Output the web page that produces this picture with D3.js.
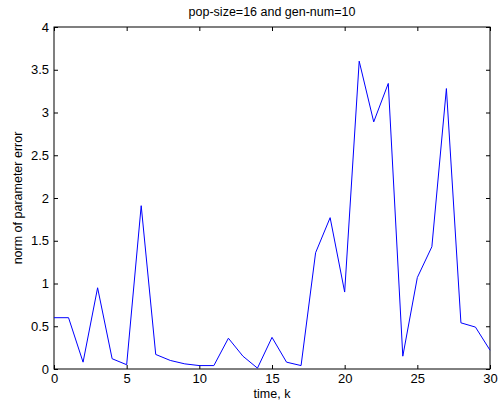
<!DOCTYPE html>
<html>
<head>
<meta charset="utf-8">
<script src="https://cdn.jsdelivr.net/npm/d3@7"></script>
<style>
  body { margin: 0; background: #fff; }
  text { font-family: "Liberation Sans", Arial, sans-serif; fill: #000; }
</style>
</head>
<body>
<div id="plot"></div>
<script>
// Data
const timeSteps = d3.range(0, 31);
const errorNorm = [0.60, 0.60, 0.08, 0.95, 0.12, 0.05, 1.91, 0.17, 0.10, 0.06,
                   0.04, 0.04, 0.36, 0.15, 0.01, 0.37, 0.08, 0.04, 1.36, 1.77,
                   0.90, 3.60, 2.89, 3.34, 0.15, 1.07, 1.43, 3.28, 0.54, 0.49, 0.22];
const xTicks = [0, 5, 10, 15, 20, 25, 30];
const yTicks = [0, 0.5, 1, 1.5, 2, 2.5, 3, 3.5, 4];

const w = 500, h = 410;
const margin = { left: 54, right: 10, top: 27, bottom: 41 };

const svg = d3.select("#plot").append("svg")
    .attr("width", w)
    .attr("height", h);

const x = d3.scaleLinear().domain([0, 30]).range([margin.left, w - margin.right]);
const y = d3.scaleLinear().domain([0, 4]).range([h - margin.bottom, margin.top]);

const tickLen = 4;

// bottom / top axes, ticks pointing inward
svg.append("g")
    .attr("transform", "translate(0," + y(0) + ")")
    .call(d3.axisBottom(x).tickValues(xTicks).tickSize(-tickLen).tickPadding(5).tickFormat(d3.format("d")))
    .call(g => g.select(".domain").remove());
svg.append("g")
    .attr("transform", "translate(0," + y(4) + ")")
    .call(d3.axisTop(x).tickValues(xTicks).tickSize(-tickLen).tickFormat(""))
    .call(g => g.select(".domain").remove());

// left / right axes
svg.append("g")
    .attr("transform", "translate(" + x(0) + ",0)")
    .call(d3.axisLeft(y).tickValues(yTicks).tickSize(-tickLen).tickPadding(5).tickFormat(d => d))
    .call(g => g.select(".domain").remove());
svg.append("g")
    .attr("transform", "translate(" + x(30) + ",0)")
    .call(d3.axisRight(y).tickValues(yTicks).tickSize(-tickLen).tickFormat(""))
    .call(g => g.select(".domain").remove());

svg.selectAll(".tick text").style("font-size", "13px").style("font-family", "'Liberation Sans', Arial, sans-serif");
svg.selectAll(".tick line").attr("stroke", "#000");

// frame box
svg.append("rect")
    .attr("x", x(0))
    .attr("y", y(4))
    .attr("width", x(30) - x(0))
    .attr("height", y(0) - y(4))
    .attr("fill", "none")
    .attr("stroke", "#000")
    .attr("stroke-width", 1);

// the series
const line = d3.line()
    .x((d, i) => x(timeSteps[i]))
    .y(d => y(d));
svg.append("path")
    .datum(errorNorm)
    .attr("d", line)
    .attr("fill", "none")
    .attr("stroke", "#0000ff")
    .attr("stroke-width", 1);

// title and labels
svg.append("text")
    .attr("x", (x(0) + x(30)) / 2)
    .attr("y", 16)
    .attr("text-anchor", "middle")
    .style("font-size", "12.5px")
    .text("pop-size=16 and gen-num=10");

svg.append("text")
    .attr("x", (x(0) + x(30)) / 2)
    .attr("y", 398)
    .attr("text-anchor", "middle")
    .style("font-size", "12.5px")
    .text("time, k");

svg.append("text")
    .attr("transform", "translate(22," + ((y(0) + y(4)) / 2) + ") rotate(-90)")
    .attr("text-anchor", "middle")
    .style("font-size", "12.5px")
    .text("norm of parameter error");
</script>
</body>
</html>
